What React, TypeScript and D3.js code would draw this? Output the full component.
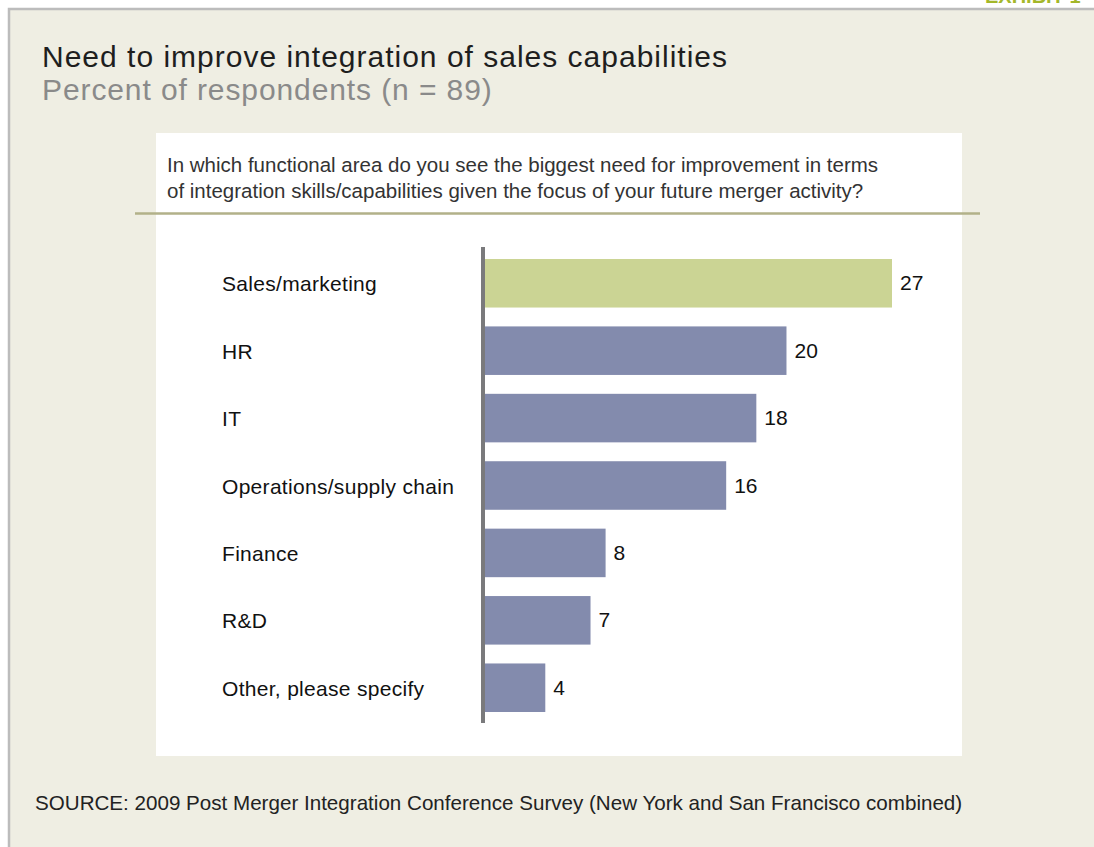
import * as d3 from "d3";

const categories = [
  "Sales/marketing",
  "HR",
  "IT",
  "Operations/supply chain",
  "Finance",
  "R&D",
  "Other, please specify",
];
const values = [27, 20, 18, 16, 8, 7, 4];
const highlighted = ["Sales/marketing"];

const title = "Need to improve integration of sales capabilities";
const subtitle = "Percent of respondents (n = 89)";
const questionLines = [
  "In which functional area do you see the biggest need for improvement in terms",
  "of integration skills/capabilities given the focus of your future merger activity?",
];
const source =
  "SOURCE: 2009 Post Merger Integration Conference Survey (New York and San Francisco combined)";

const W = 1094;
const H = 847;
const FONT = "'Liberation Sans', Arial, Helvetica, sans-serif";

export default function App() {
  const x = d3.scaleLinear().domain([0, 27]).range([485, 892]);
  const y = d3
    .scaleBand<string>()
    .domain(categories)
    .range([259, 712])
    .paddingInner(0.28)
    .paddingOuter(0);

  return (
    <svg
      width={W}
      height={H}
      style={{ position: "absolute", left: 0, top: 0, fontFamily: FONT }}
    >
      <rect x={0} y={0} width={W} height={H} fill="#ffffff" />
      {/* exhibit tag, cut off by the page top like in the original */}
      <text x={985} y={3} fontSize={20} fontWeight="bold" fill="#a3b72a">
        EXHIBIT 1
      </text>
      <rect x={9} y={9} width={W} height={H} fill="#efeee3" stroke="#bcbcbc" strokeWidth={2.5} />

      <text x={42} y={67} fontSize={30} letterSpacing={1} fill="#1e1e1e">
        {title}
      </text>
      <text x={42} y={100} fontSize={30} letterSpacing={0.9} fill="#8a8a8a">
        {subtitle}
      </text>

      <rect x={156} y={133} width={806} height={623} fill="#ffffff" />
      {questionLines.map((line, i) => (
        <text key={i} x={167} y={172 + i * 26} fontSize={20.5} fill="#333333">
          {line}
        </text>
      ))}
      <line x1={135} x2={980} y1={213.5} y2={213.5} stroke="#b2b189" strokeWidth={2.5} />

      {categories.map((c, i) => (
        <g key={c}>
          <rect
            x={x(0)}
            y={y(c)}
            width={x(values[i]) - x(0)}
            height={y.bandwidth()}
            fill={highlighted.includes(c) ? "#cbd494" : "#838bad"}
          />
          <text
            x={222}
            y={(y(c) ?? 0) + y.bandwidth() / 2 + 8}
            fontSize={21}
            letterSpacing={0.3}
            fill="#111111"
          >
            {c}
          </text>
          <text
            x={x(values[i]) + 8}
            y={(y(c) ?? 0) + y.bandwidth() / 2 + 7}
            fontSize={21}
            fill="#111111"
          >
            {values[i]}
          </text>
        </g>
      ))}
      <rect x={x(0) - 4} y={247} width={4} height={476} fill="#7a7a7c" />

      <text x={35} y={810} fontSize={20.6} fill="#222222">
        {source}
      </text>
    </svg>
  );
}
